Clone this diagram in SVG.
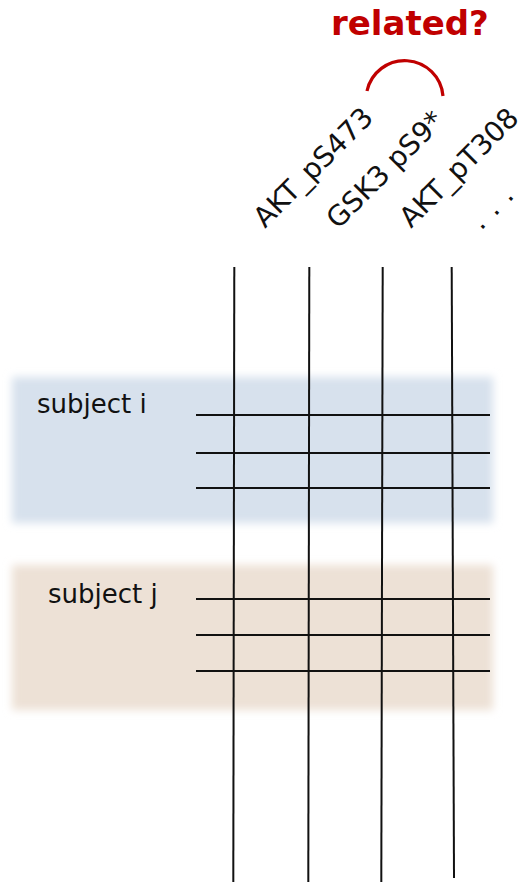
<svg xmlns="http://www.w3.org/2000/svg" width="525" height="882" viewBox="0 0 525 882">
  <defs>
    <filter id="soft" x="-10%" y="-20%" width="120%" height="140%">
      <feGaussianBlur stdDeviation="4"/>
    </filter>
    <style>
      .label { font-family: "DejaVu Sans", Verdana, sans-serif; font-size: 26px; fill: #111; }
      .col { font-family: "DejaVu Sans", Verdana, sans-serif; font-size: 28px; fill: #111; }
      .grid line { stroke: #111; stroke-width: 2; }
      .accent { fill: none; stroke: #c00000; stroke-width: 3.2; }
      .title { font-family: "DejaVu Sans", Verdana, sans-serif; font-weight: bold; font-size: 34px; fill: #c00000; }
    </style>
  </defs>
  <rect width="525" height="882" fill="#ffffff"/>

  <!-- subject bands -->
  <g id="subject-i">
    <rect x="12" y="377" width="481" height="146" fill="#d7e1ed" filter="url(#soft)"/>
    <text class="label" x="37" y="413">subject i</text>
  </g>
  <g id="subject-j">
    <rect x="12" y="565" width="481" height="145" fill="#ede1d6" filter="url(#soft)"/>
    <text class="label" x="48" y="603">subject j</text>
  </g>

  <!-- column headers -->
  <g id="col-akt-ps473">
    <text class="col" transform="translate(265,229) rotate(-45)">AKT_pS473</text>
  </g>
  <g id="col-gsk3-ps9">
    <text class="col" transform="translate(338,230) rotate(-45)">GSK3 pS9*</text>
  </g>
  <g id="col-akt-pt308">
    <text class="col" transform="translate(411,229) rotate(-45)">AKT_pT308</text>
  </g>
  <g id="col-more">
    <text class="col" letter-spacing="1" transform="translate(481,231) rotate(-45)">. . .</text>
  </g>

  <!-- relation marker -->
  <g id="related">
    <text class="title" x="331" y="35">related?</text>
    <path class="accent" d="M367 91 A38.5 38.5 0 0 1 443 96"/>
  </g>

  <!-- grid -->
  <g id="connectors" class="grid">
    <line x1="234.3" y1="267" x2="233.3" y2="882"/>
    <line x1="309.3" y1="267" x2="308.3" y2="882"/>
    <line x1="382.7" y1="267" x2="381.3" y2="882"/>
    <line x1="451.7" y1="267" x2="454" y2="878"/>
    <line x1="196" y1="415" x2="490" y2="415"/>
    <line x1="196" y1="453" x2="490" y2="453"/>
    <line x1="196" y1="488" x2="490" y2="488"/>
    <line x1="196" y1="599" x2="490" y2="599"/>
    <line x1="196" y1="635" x2="490" y2="635"/>
    <line x1="196" y1="671" x2="490" y2="671"/>
  </g>
</svg>
